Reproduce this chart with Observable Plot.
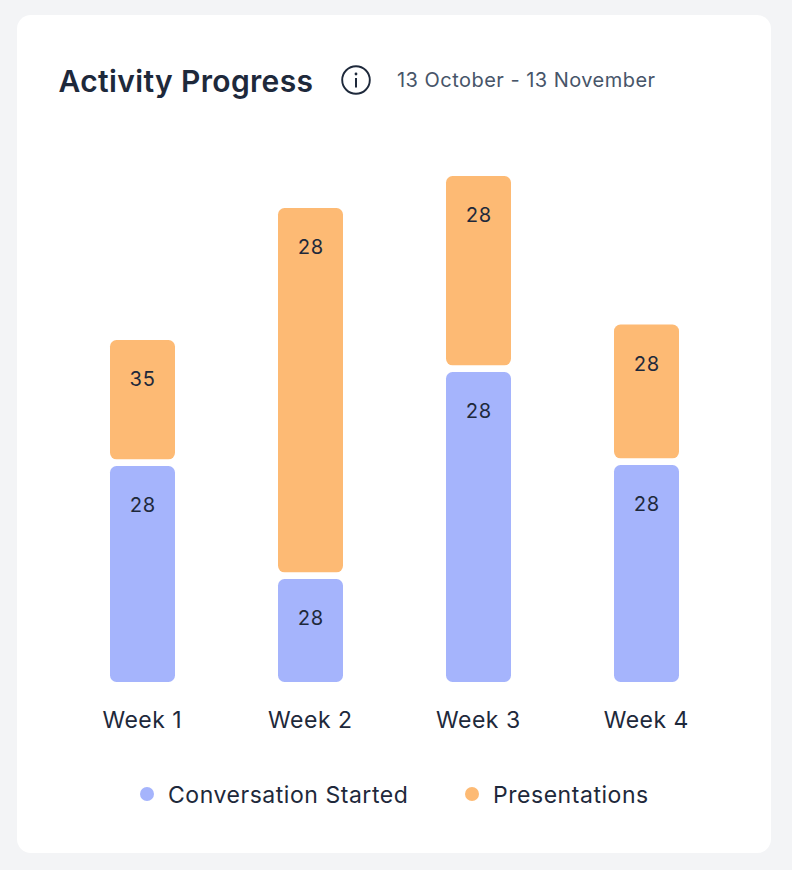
<!DOCTYPE html>
<html><head><meta charset="utf-8">
<script src="https://cdn.jsdelivr.net/npm/d3@7"></script>
<script src="https://cdn.jsdelivr.net/npm/@observablehq/plot@0.6"></script>
<style>
html,body{margin:0;padding:0;background:#F3F4F6;font-family:Inter,sans-serif;color:#1E293B}
body{width:792px;height:870px;position:relative;overflow:hidden}
#card{position:absolute;left:17px;top:15px;width:754px;height:838px;background:#fff;border-radius:14px}
.abs{position:absolute;white-space:nowrap;line-height:1}
#title{left:58.5px;top:66px;font-size:30px;font-weight:600;letter-spacing:.36px}
#sub{left:397px;top:70px;font-size:20px;letter-spacing:.47px;color:#475569}
#info{left:341px;top:65px}
#chart{position:absolute;left:0;top:130px}
#chart svg g[aria-label="x-axis tick label"] text{letter-spacing:.5px}
.lg{font-size:23px;top:784px;letter-spacing:.54px}
.dot{position:absolute;width:14px;height:14px;border-radius:50%;top:787px}
</style></head><body>
<div id="card"></div>
<div id="title" class="abs">Activity Progress</div>
<svg id="info" class="abs" width="30" height="30" viewBox="0 0 30 30"><circle cx="15" cy="15" r="13.8" fill="none" stroke="#1E293B" stroke-width="1.9"/><circle cx="15" cy="9" r="1.4" fill="#1E293B"/><path d="M15 13v9.5" stroke="#1E293B" stroke-width="2"/></svg>
<div id="sub" class="abs">13 October - 13 November</div>
<div id="chart"></div>
<span class="dot" style="left:140px;background:#A5B4FC"></span>
<div class="abs lg" style="left:168px">Conversation Started</div>
<span class="dot" style="left:465px;background:#FDBA74"></span>
<div class="abs lg" style="left:493px">Presentations</div>
<script>
const weeks = ["Week 1","Week 2","Week 3","Week 4"];
const conversations = [216,103,310,217];
const presentations = [126,371,196,140.5];
const conversationLabels = [28,28,28,28];
const presentationLabels = [35,28,28,28];
const blue = weeks.map((w,i)=>({w,y1:0,y2:conversations[i],label:conversationLabels[i]}));
const orange = weeks.map((w,i)=>({w,y1:conversations[i],y2:conversations[i]+presentations[i],label:presentationLabels[i]}));
const chart = Plot.plot({
  width:792,height:620,marginLeft:6.7,marginRight:10.3,marginTop:0,marginBottom:68,
  style:{fontFamily:"Inter",background:"transparent",overflow:"visible"},
  x:{domain:weeks,padding:0.613,label:null},
  y:{domain:[0,552],axis:null},
  marks:[
    Plot.barY(blue,{x:"w",y1:"y1",y2:"y2",fill:"#A5B4FC",rx:6.5}),
    Plot.barY(orange,{x:"w",y1:"y1",y2:"y2",fill:"#FDBA74",rx:6.5,insetBottom:6.7}),
    Plot.text(blue,{x:"w",y:"y2",text:"label",dy:39.5,dx:-0.5,fontSize:20,fill:"#1E293B"}),
    Plot.text(orange,{x:"w",y:"y2",text:"label",dy:39.5,dx:-0.5,fontSize:20,fill:"#1E293B"}),
    Plot.axisX({tickSize:0,tickPadding:0,label:null,fontSize:23,fill:"#1E293B",dy:38,dx:-0.7,lineAnchor:"middle"})
  ]
});
document.getElementById("chart").append(chart);
</script>
</body></html>
